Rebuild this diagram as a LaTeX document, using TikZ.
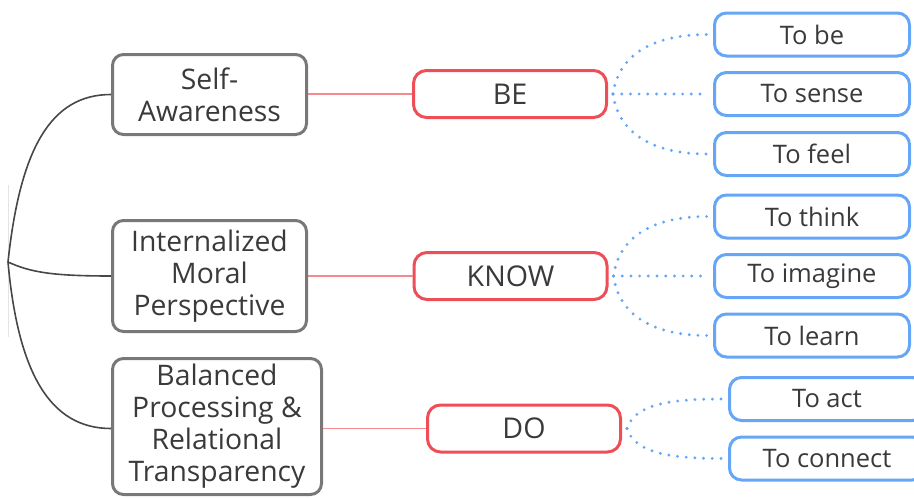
\documentclass[tikz,border=0pt]{standalone}
\usepackage{fontspec}
\setmainfont{Open Sans}
\definecolor{txt}{HTML}{3A3A3A}
\definecolor{grayb}{HTML}{787878}
\definecolor{redb}{HTML}{EE4E56}
\definecolor{blueb}{HTML}{66A6F6}
\definecolor{pinkl}{HTML}{F48A90}
\definecolor{darkl}{HTML}{474747}
\definecolor{rootl}{HTML}{E4E4E4}
\tikzset{
  graybox/.style={draw=grayb, line width=3pt, rounded corners=11pt, fill=white, text=txt,
    align=center, inner sep=0pt, font=\fontsize{28.3}{32}\selectfont},
  redbox/.style={draw=redb, line width=3pt, rounded corners=13pt, fill=white, text=txt,
    inner sep=0pt, minimum width=193pt, minimum height=47pt, font=\fontsize{28.6}{32}\selectfont},
  bluebox/.style={draw=blueb, line width=3pt, rounded corners=12pt, fill=white, text=txt,
    inner sep=0pt, minimum width=195pt, minimum height=43pt, font=\fontsize{25.5}{30}\selectfont},
  pinkline/.style={draw=pinkl, line width=1.5pt},
  trunk/.style={draw=darkl, line width=1.6pt},
  dots/.style={draw=blueb, line width=3.2pt, line cap=round, dash pattern=on 0pt off 8.7pt},
}
\begin{document}
\begin{tikzpicture}[x=1pt,y=-1pt]
\useasboundingbox (0,0) rectangle (914,498);
\clip (0,0) rectangle (914,498);

% root edge
\coordinate (rtop) at (8,185);
\coordinate (rbot) at (8,337);
\coordinate (root) at (8,262);
\draw[rootl, line width=1pt] (rtop) -- (rbot);

% gray boxes
\node[graybox, minimum width=194pt, minimum height=80pt] (g1) at (209.5,94.5) {Self-\\Awareness};
\node[graybox, minimum width=194pt, minimum height=111pt] (g2) at (209.5,276) {Internalized\\Moral\\Perspective};
\node[graybox, minimum width=209pt, minimum height=136pt] (g3) at (217,426.5) {Balanced\\Processing \&\\Relational\\Transparency};

% red boxes
\node[redbox] (be) at (510,94) {BE};
\node[redbox] (know) at (510.5,276) {KNOW};
\node[redbox] (do) at (524,428.5) {DO};

% blue boxes
\node[bluebox] (tobe) at (812,34.5) {To be};
\node[bluebox] (tosense) at (812,94) {To sense};
\node[bluebox] (tofeel) at (812,154) {To feel};
\node[bluebox] (tothink) at (812,216.5) {To think};
\node[bluebox] (toimagine) at (812,276) {To imagine};
\node[bluebox] (tolearn) at (812,335.5) {To learn};
\node[bluebox] (toact) at (827,399) {To act};
\node[bluebox] (toconnect) at (827,458.5) {To connect};

% trunk curves
\draw[trunk] (root) .. controls +(12,-112) and +(-61,0) .. (g1.west);
\draw[trunk] (root) .. controls +(22,10) and +(-60,0) .. (g2.west);
\draw[trunk] (root) .. controls +(10,111) and +(-61,0) .. (g3.west |- do.west);

% pink connectors
\draw[pinkline] (g1.east |- be.west) -- (be.west);
\draw[pinkline] (g2.east |- know.west) -- (know.west);
\draw[pinkline] (g3.east |- do.west) -- (do.west);

% dotted connectors
\draw[dots] ([xshift=5pt]be.east) .. controls +(6,-42) and +(-50,0) .. ([xshift=-6pt]tobe.west);
\draw[dots] ([xshift=5pt]be.east) -- ([xshift=-6pt]tosense.west);
\draw[dots] ([xshift=5pt]be.east) .. controls +(6,42) and +(-50,0) .. ([xshift=-6pt]tofeel.west);

\draw[dots] ([xshift=5pt]know.east) .. controls +(6,-42) and +(-50,0) .. ([xshift=-6pt]tothink.west);
\draw[dots] ([xshift=5pt]know.east) -- ([xshift=-6pt]toimagine.west);
\draw[dots] ([xshift=5pt]know.east) .. controls +(6,42) and +(-50,0) .. ([xshift=-6pt]tolearn.west);

\draw[dots] ([xshift=5pt]do.east) .. controls +(8,-25) and +(-50,0) .. ([xshift=-6pt]toact.west);
\draw[dots] ([xshift=5pt]do.east) .. controls +(8,25) and +(-50,0) .. ([xshift=-6pt]toconnect.west);
\end{tikzpicture}
\end{document}
